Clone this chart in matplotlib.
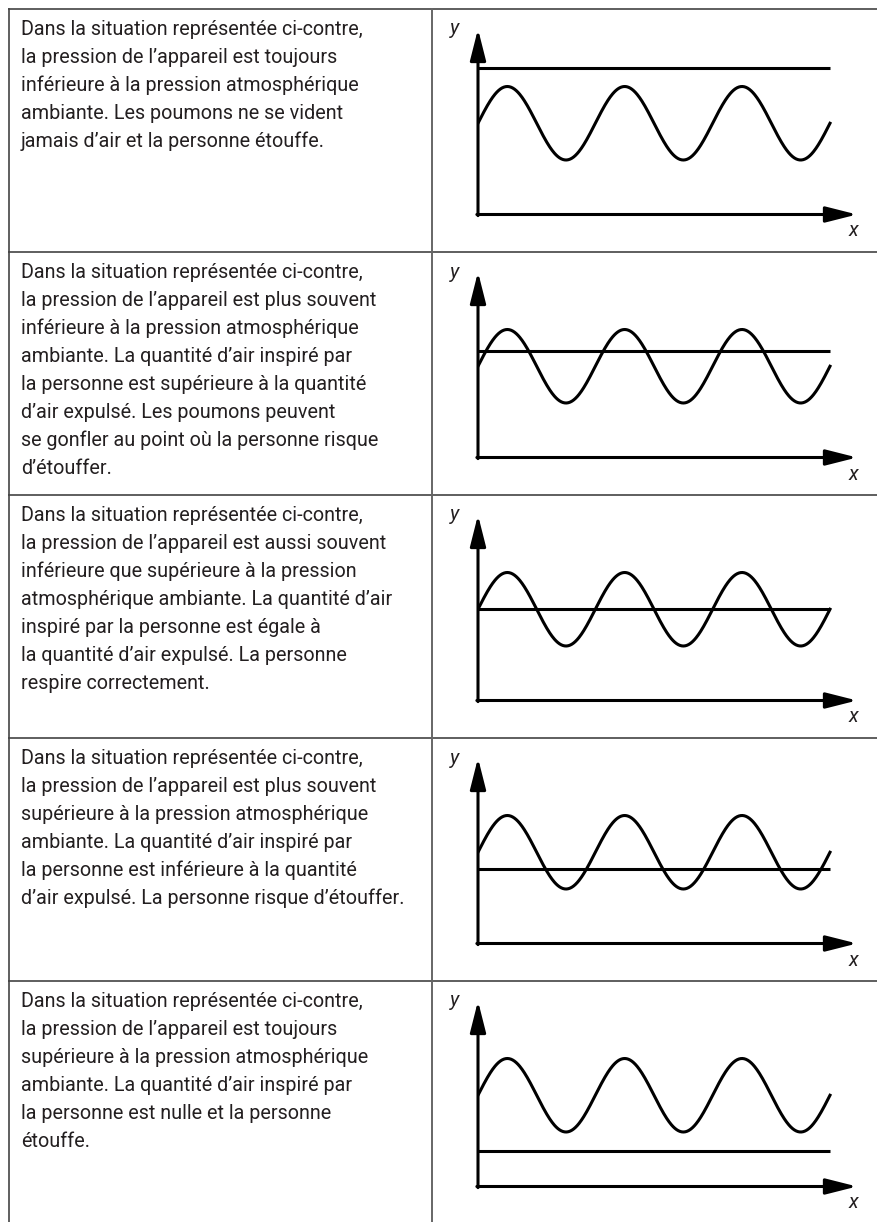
import numpy as np
import matplotlib.pyplot as plt
from matplotlib import font_manager

W, H = 878, 1222
DPI = 100

installed = {f.name for f in font_manager.fontManager.ttflist}
FONT = 'Liberation Sans Narrow' if 'Liberation Sans Narrow' in installed else 'Roboto'
TEXT_SIZE = 13.3 if FONT == 'Liberation Sans Narrow' else 14.2
plt.rcParams['font.family'] = [FONT, 'DejaVu Sans']

# ---- content ----
row1 = ["Dans la situation représentée ci-contre,",
        "la pression de l’appareil est toujours",
        "inférieure à la pression atmosphérique",
        "ambiante. Les poumons ne se vident",
        "jamais d’air et la personne étouffe."]
row2 = ["Dans la situation représentée ci-contre,",
        "la pression de l’appareil est plus souvent",
        "inférieure à la pression atmosphérique",
        "ambiante. La quantité d’air inspiré par",
        "la personne est supérieure à la quantité",
        "d’air expulsé. Les poumons peuvent",
        "se gonfler au point où la personne risque",
        "d’étouffer."]
row3 = ["Dans la situation représentée ci-contre,",
        "la pression de l’appareil est aussi souvent",
        "inférieure que supérieure à la pression",
        "atmosphérique ambiante. La quantité d’air",
        "inspiré par la personne est égale à",
        "la quantité d’air expulsé. La personne",
        "respire correctement."]
row4 = ["Dans la situation représentée ci-contre,",
        "la pression de l’appareil est plus souvent",
        "supérieure à la pression atmosphérique",
        "ambiante. La quantité d’air inspiré par",
        "la personne est inférieure à la quantité",
        "d’air expulsé. La personne risque d’étouffer."]
row5 = ["Dans la situation représentée ci-contre,",
        "la pression de l’appareil est toujours",
        "supérieure à la pression atmosphérique",
        "ambiante. La quantité d’air inspiré par",
        "la personne est nulle et la personne",
        "étouffe."]
descriptions = [row1, row2, row3, row4, row5]

# ambient pressure level for each row, in units of the device pressure amplitude
ambient_levels = [1.5, 0.41, 0.0, -0.46, -1.52]
amplitude = 1.0
n_periods = 3

# ---- layout (pixels) ----
row_tops = [9, 252, 495, 738, 981]
col_split = 432
left_edge = 9
text_x = 21
first_baseline = 26
line_step = 28

fig = plt.figure(figsize=(W / DPI, H / DPI), dpi=DPI)
base = fig.add_axes([0, 0, 1, 1])
base.set_xlim(0, W)
base.set_ylim(H, 0)
base.axis('off')

# table rules
for t in row_tops:
    base.plot([left_edge - 1, W], [t, t], color='#333333', lw=1.1, solid_capstyle='butt')
base.plot([left_edge, left_edge], [row_tops[0], H], color='#444444', lw=1.2)
base.plot([col_split, col_split], [row_tops[0], H], color='#666666', lw=1.4)

for top, lines in zip(row_tops, descriptions):
    for i, line in enumerate(lines):
        base.text(text_x, top + first_baseline + i * line_step, line,
                  fontsize=TEXT_SIZE, color='#231f20', va='baseline', ha='left')

# graphs
x_axis_px = 205.5
mid_px = 114.25
tip_px = 20
amp_px = 36.75
gx0, gx_end, gx_tip = 478, 830, 857
unit_px = (gx_end - gx0) / n_periods

x = np.linspace(0, n_periods, 600)
for top, level in zip(row_tops, ambient_levels):
    bottom_px = top + x_axis_px
    ax = fig.add_axes([gx0 / W, 1 - bottom_px / H,
                       (gx_tip - gx0) / W, (x_axis_px - tip_px) / H])
    ax.set_xlim(0, (gx_tip - gx0) / unit_px)
    ax.set_ylim((mid_px - x_axis_px) / amp_px, (mid_px - tip_px) / amp_px)
    ax.axis('off')
    ax.patch.set_alpha(0)

    ax.plot(x, amplitude * np.sin(2 * np.pi * x), color='black', lw=2.2)
    ax.plot([0, n_periods], [level, level], color='black', lw=2.2,
            solid_capstyle='butt')

    arrow = dict(arrowstyle='-|>,head_length=1.9,head_width=0.48',
                 mutation_scale=10, lw=2.2, color='black',
                 shrinkA=0, shrinkB=0, clip_on=False)
    ax.annotate('', xy=(0, 1), xytext=(0, -0.006), xycoords='axes fraction',
                arrowprops=arrow, annotation_clip=False)
    ax.annotate('', xy=(1, 0), xytext=(-0.003, 0), xycoords='axes fraction',
                arrowprops=arrow, annotation_clip=False)

    base.text(454, top + 20, 'y', fontsize=14.5, style='italic',
              ha='center', va='center', color='#231f20')
    base.text(853, top + 222, 'x', fontsize=14.5, style='italic',
              ha='center', va='center', color='#231f20')

fig.savefig('out.png', dpi=DPI)
